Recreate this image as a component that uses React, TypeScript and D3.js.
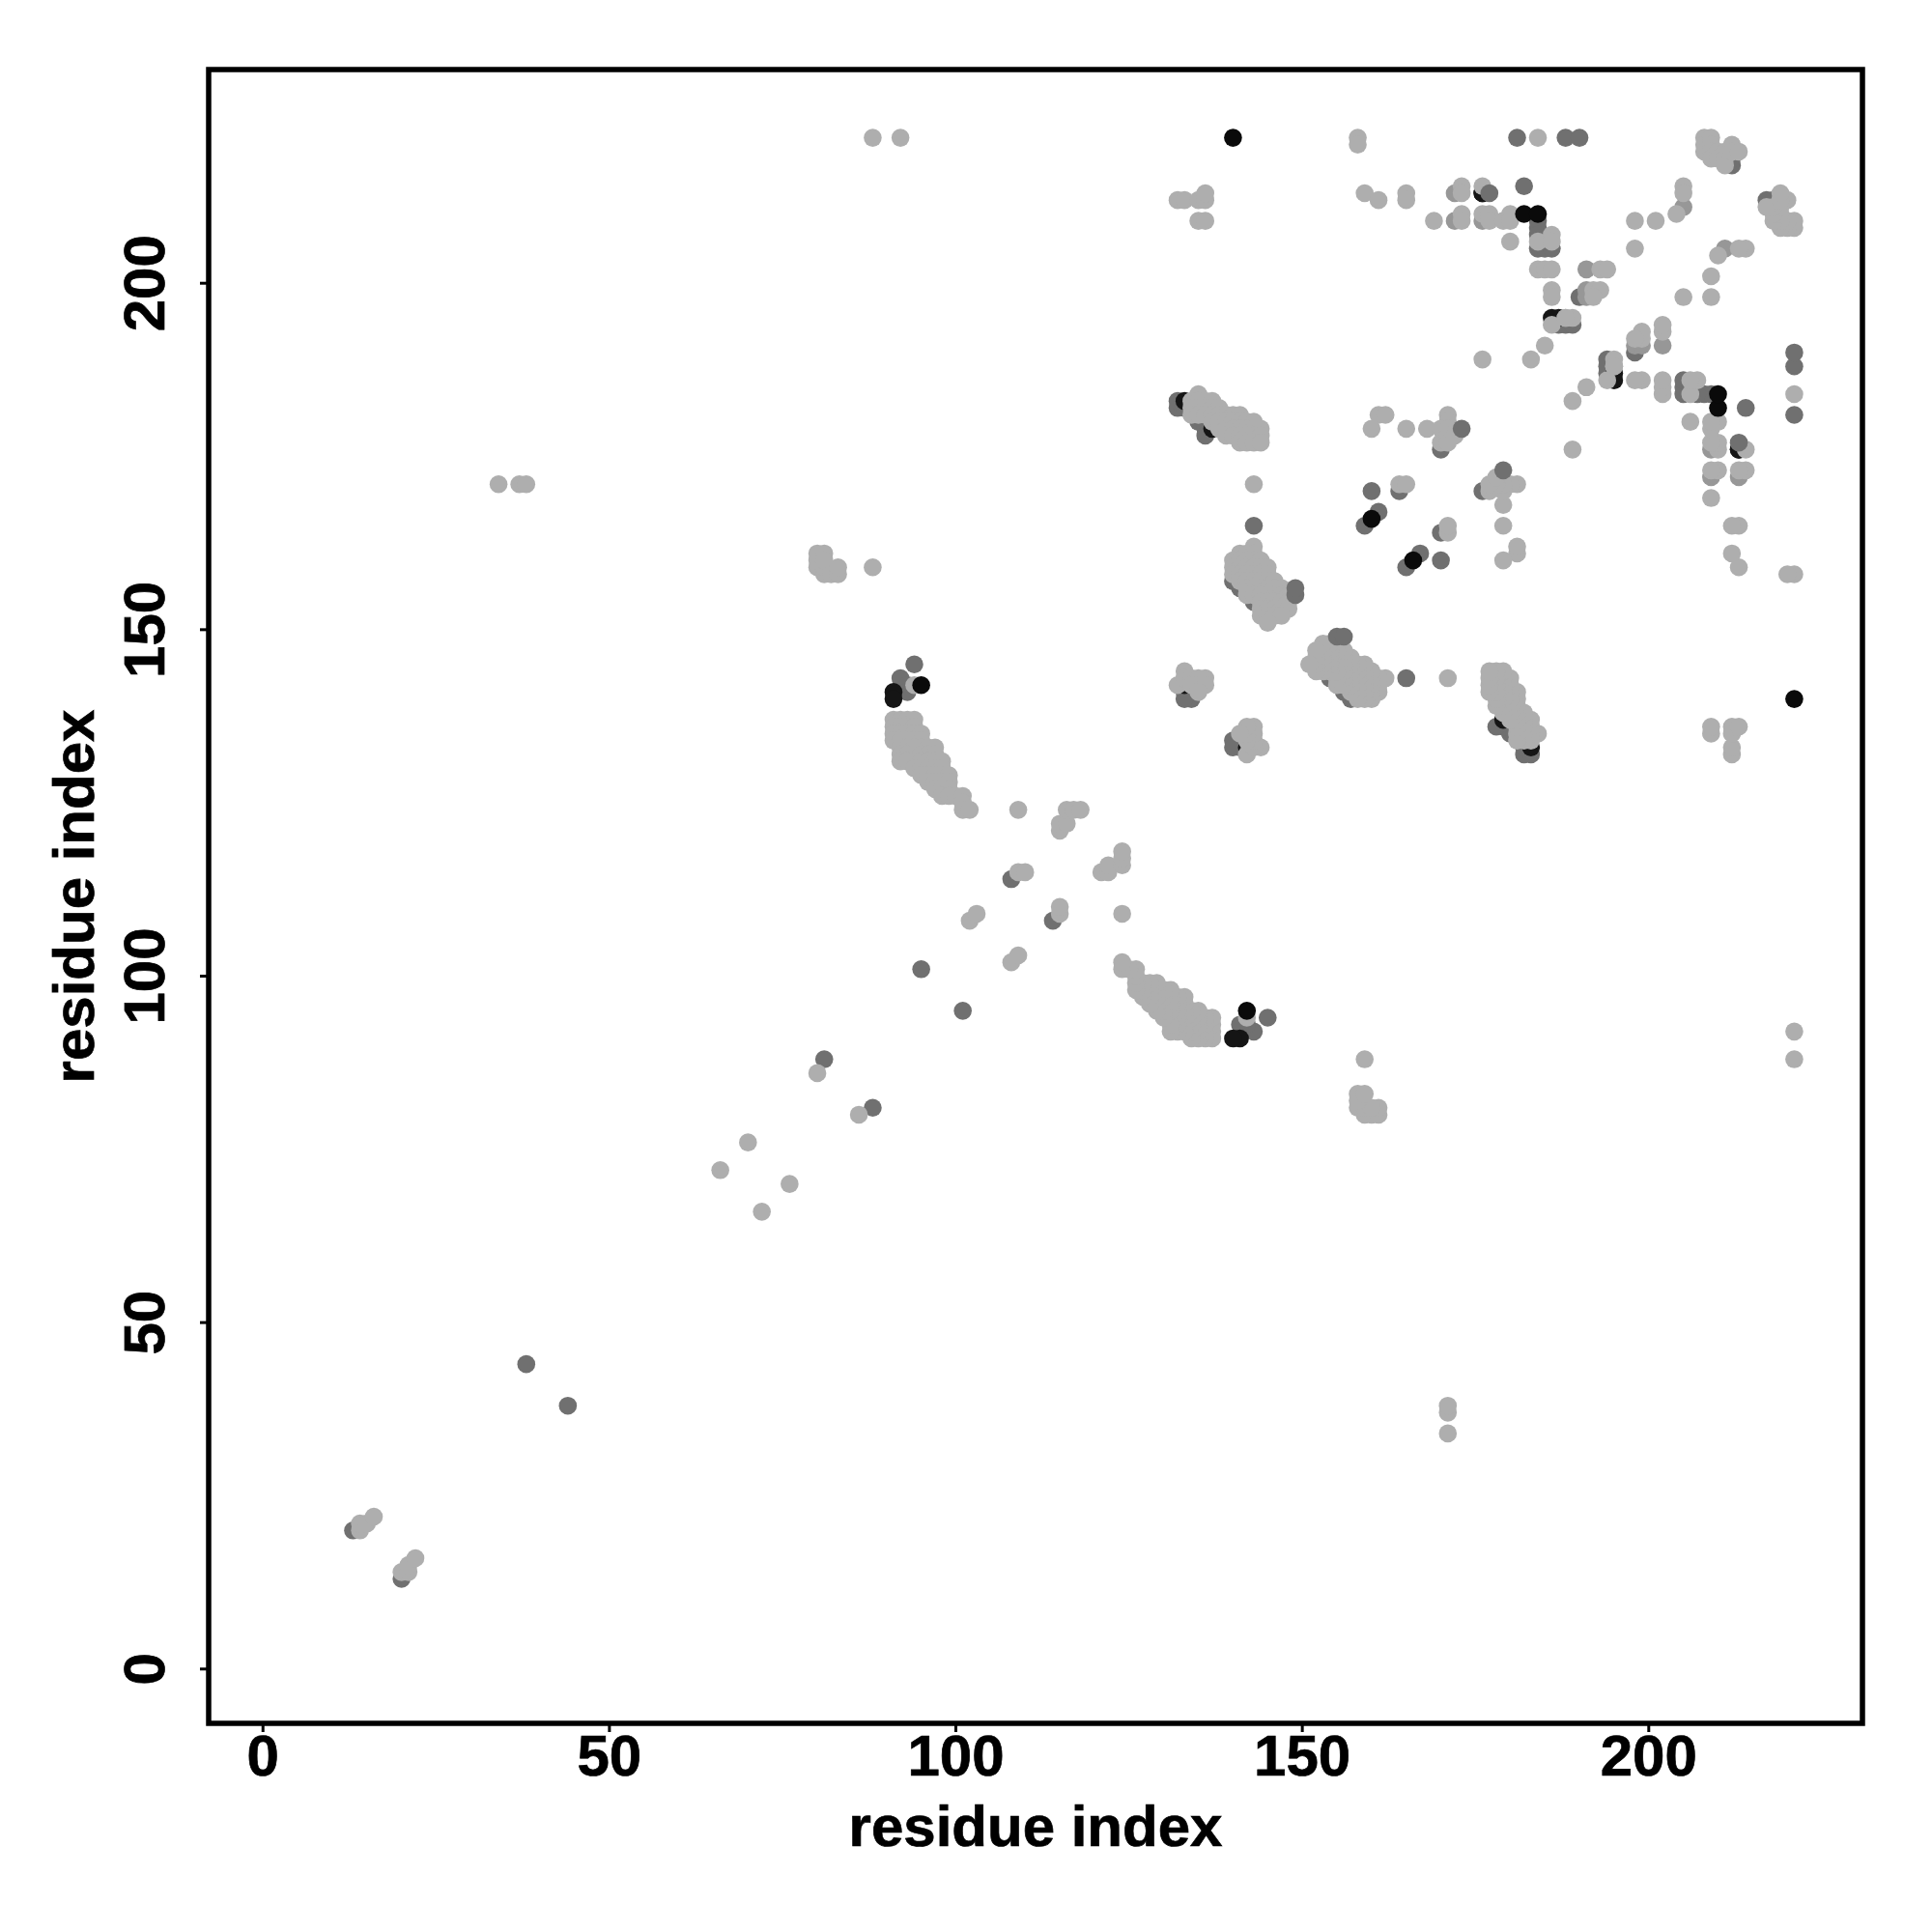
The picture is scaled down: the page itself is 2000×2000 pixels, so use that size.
import React from "react";
import * as d3 from "d3";

type P = [number, number];

const tickValues = [0, 50, 100, 150, 200];
const axisTitle = "residue index";

// The contact map is symmetric: each listed contact (i < j) is shown at (i,j) and (j,i).
const blackFirst: P[] = [[176,213]];

const midContacts: P[] = [
  [13,20],[38,44],[81,88],[95,101],[108,114],[92,143],[93,142],[94,145],[93,141],
  [132,182],[132,183],[135,180],[136,180],[136,179],[136,178],[143,165],[140,157],[143,154],[145,155],[146,155],[141,156],
  [134,140],[134,141],[133,141],[133,140],[133,182],[181,221],[188,221],[190,221],[182,214],
  [184,209],[184,208],[184,207],[184,205],[185,205],[186,205],[187,194],[188,194],[189,194],[190,198],
  [160,170],[164,170],[161,167],[159,165],[170,176],[212,217],[212,218],
];

const blackUnder: P[] = [
  [91,141],[91,140],[133,183],[137,179],[133,142],[186,195],[187,195],[213,176],
];

const semiContacts: P[] = [
  [172,213],[172,209],[176,209],[191,202],[191,198],[191,199],[205,211],
];

const lightContacts: P[] = [
  [14,20],[14,21],[15,21],[16,22],[66,72],[70,76],[80,86],[102,108],[103,109],[109,115],[110,115],[109,124],
  [115,121],[115,122],[116,122],[116,124],[117,124],[118,124],
  [91,137],[92,137],[93,137],[94,137],[91,136],[92,136],[93,136],[94,136],[91,135],[92,135],[93,135],[94,135],[95,135],
  [91,134],[92,134],[93,134],[94,134],[95,134],[92,133],[93,133],[94,133],[95,133],[96,133],[97,133],
  [92,132],[93,132],[94,132],[95,132],[96,132],[97,132],[92,131],[93,131],[95,131],[96,131],[97,131],[98,131],
  [94,130],[95,130],[96,130],[97,130],[98,130],[95,129],[96,129],[97,129],[98,129],[99,129],
  [96,128],[97,128],[98,128],[99,128],[97,127],[98,127],[99,127],[98,126],[99,126],[100,126],[101,126],[101,125],[101,124],[102,124],
  [94,142],[34,171],[37,171],[38,171],
  [80,159],[80,160],[80,161],[81,161],[81,158],[81,159],[81,160],[82,158],[83,158],[83,159],[88,159],
  [88,221],[92,221],[158,221],[158,220],
  [208,221],[208,220],[208,219],[209,221],[209,220],[209,219],[209,218],[210,219],[210,218],[211,219],[211,218],[211,217],
  [212,220],[212,219],[213,219],
  [132,212],[133,212],[135,212],[136,212],[136,213],[135,209],[136,209],
  [159,213],[161,212],[165,213],[165,212],[169,209],[173,210],[173,209],[173,214],[173,213],[176,214],
  [176,210],[177,210],[177,209],[179,209],[180,210],[180,209],[180,206],[184,206],[186,207],[186,206],
  [184,202],[185,202],[186,202],[193,202],[194,202],[186,199],[186,198],[192,199],[193,199],[192,198],
  [188,195],[189,195],[186,194],[185,191],[183,189],[176,189],[189,183],[191,185],
  [198,186],[199,186],[184,221],
  [135,184],[134,183],[135,183],[136,183],[137,183],[134,182],[135,182],[136,182],[137,182],[138,182],
  [134,181],[135,181],[136,181],[137,181],[138,181],[139,181],[140,181],[141,181],
  [137,180],[138,180],[139,180],[140,180],[141,180],[142,180],[143,180],
  [138,179],[139,179],[140,179],[141,179],[142,179],[143,179],[144,179],
  [139,178],[140,178],[141,178],[142,178],[143,178],[144,178],[141,177],[142,177],[143,177],[144,177],[143,171],
  [143,162],[141,161],[142,161],[143,161],[140,160],[141,160],[142,160],[143,160],[144,160],
  [140,159],[141,159],[142,159],[143,159],[144,159],[145,159],[140,158],[141,158],[142,158],[143,158],[144,158],[145,158],
  [141,157],[142,157],[143,157],[144,157],[145,157],[146,157],[142,156],[143,156],[144,156],[145,156],[146,156],[147,156],
  [142,155],[143,155],[144,155],[147,155],[148,155],[144,154],[145,154],[146,154],[147,154],[148,154],
  [144,153],[145,153],[146,153],[147,153],[148,153],[144,152],[145,152],[146,152],[147,152],[145,151],
  [132,142],[133,144],[133,143],[134,143],[135,143],[136,143],[134,142],[135,142],[136,142],[135,141],
  [141,136],[142,136],[143,136],[141,135],[142,135],[143,135],[141,134],[142,134],[143,134],[143,133],[144,133],[142,132],
  [161,181],[162,181],[160,179],[165,179],[168,179],[171,181],[171,180],[170,179],[171,179],[170,177],[171,178],[171,177],[172,178],
  [164,171],[165,171],[177,171],[177,170],[178,172],[178,171],[178,170],[179,171],[180,171],[181,171],
  [171,143],[171,165],[171,164],[179,168],[179,165],[179,160],[181,162],[181,161],
  [189,176],[209,169],[212,165],[213,165],[212,161],[213,159],[220,158],[221,158],
  [209,136],[209,135],[212,136],[213,136],[212,135],[212,134],[212,133],[212,132],
  [219,213],[219,212],[220,212],[217,211],[218,210],[218,209],[219,211],[219,210],[219,209],[219,208],[220,209],[220,208],[221,209],[221,208],
  [198,209],[201,209],[198,205],[204,210],[205,214],[205,213],[210,204],[213,205],[214,205],[209,201],[205,198],[209,198],
  [202,194],[202,193],[199,193],[198,192],[199,192],[202,186],[202,185],[202,184],[206,186],[207,186],[206,185],[221,184],[188,195],
].filter(([a, b]) => a < b) as P[];

const midOver: P[] = [[149,155],[149,156],[177,213],[173,179]];

const blackOver: P[] = [[95,142],[140,221],[182,210],[184,210],[160,166]];

const LIGHT = "#aeaeae";
const SEMI = "#979797";
const MID = "#707070";
const BLACK = "#0a0a0a";

const layers: { pts: P[]; fill: string }[] = [
  { pts: blackFirst, fill: "#151515" },
  { pts: midContacts, fill: MID },
  { pts: blackUnder, fill: "#151515" },
  { pts: semiContacts, fill: SEMI },
  { pts: lightContacts, fill: LIGHT },
  { pts: midOver, fill: MID },
  { pts: blackOver, fill: BLACK },
];

const LEFT = 216, RIGHT = 1928, TOP = 72, BOTTOM = 1784;
const x = d3.scaleLinear().domain([-7.84, 230.84]).range([LEFT, RIGHT]);
const y = d3.scaleLinear().domain([-7.84, 230.84]).range([BOTTOM, TOP]);
const FONT = '"Liberation Sans", Arial, sans-serif';

export default function App() {
  return (
    <svg width={2000} height={2000} style={{ position: "absolute", left: 0, top: 0, background: "#fff" }}>
      {layers.map((l, li) => (
        <g key={li} fill={l.fill}>
          {l.pts.flatMap(([a, b], i) => [
            <circle key={`u${i}`} cx={x(a)} cy={y(b)} r={9.3} />,
            <circle key={`l${i}`} cx={x(b)} cy={y(a)} r={9.3} />,
          ])}
        </g>
      ))}
      <rect x={LEFT} y={TOP} width={RIGHT - LEFT} height={BOTTOM - TOP} fill="none" stroke="#000" strokeWidth={5.5} />
      <g fontFamily={FONT} fontWeight="bold" fontSize={60} fill="#000" stroke="#000" strokeWidth={0.7}>
        {tickValues.map((t) => (
          <g key={t}>
            <line x1={x(t)} x2={x(t)} y1={BOTTOM} y2={BOTTOM + 9} stroke="#000" strokeWidth={3} />
            <text x={x(t)} y={1838} textAnchor="middle">{t}</text>
            <line x1={LEFT} x2={LEFT - 9} y1={y(t)} y2={y(t)} stroke="#000" strokeWidth={3} />
            <text transform={`translate(170,${y(t)}) rotate(-90)`} textAnchor="middle">{t}</text>
          </g>
        ))}
        <text x={(LEFT + RIGHT) / 2} y={1911} textAnchor="middle">{axisTitle}</text>
        <text transform={`translate(97,${(TOP + BOTTOM) / 2}) rotate(-90)`} textAnchor="middle">{axisTitle}</text>
      </g>
    </svg>
  );
}
